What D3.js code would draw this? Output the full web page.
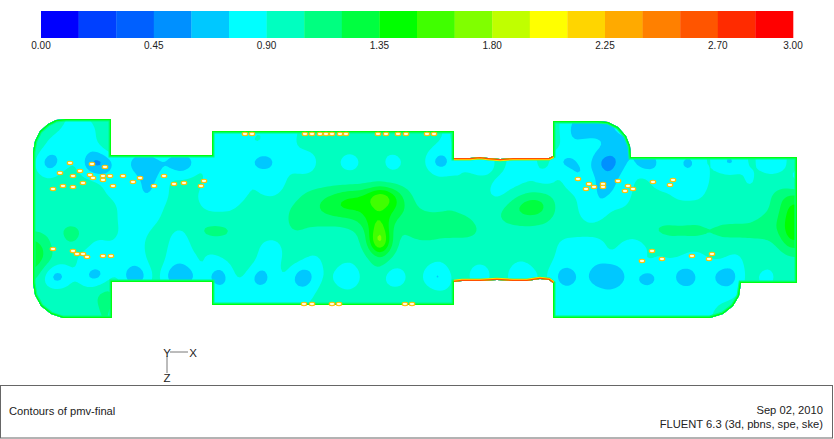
<!DOCTYPE html>
<html><head><meta charset="utf-8">
<script src="https://cdn.jsdelivr.net/npm/d3@7/dist/d3.min.js"></script>
<style>html,body{margin:0;padding:0;background:#fff;overflow:hidden}text{font-family:"Liberation Sans",Arial,sans-serif;fill:#222}</style>
</head><body><svg id="c" width="834" height="439"></svg>
<script>
const bandColors=["#0000ff","#0040ff","#0060ff","#0090ff","#00c8ff","#00ffff","#00ffc0","#00ff80","#00ff40","#00ff00","#40ff00","#80ff00","#c0ff00","#ffff00","#ffd500","#ffaa00","#ff8000","#ff5500","#ff2b00","#ff0000"];
const tickValues=[0,0.45,0.9,1.35,1.8,2.25,2.7,3];
const pmvMin=0,pmvMax=3,bandStep=0.15;
// pmv x 100, sampled across the plan
const pmvRows=[
[98,98,98,92,90,90,92,98,100,100, 98,98,98,98,98,98,98,98,92,85, 85,85,88,90,88,85,85,95,98,98, 98,98,98,98,98,98,98,98,98,98, 98,92,90,98,98,98,98,98,98,98, 98,98,98,92,80,72,72,72,72,80, 95,98,98,98,98,98,98,98,98,98, 98,98,98,98,98,98,98,98],
[98,98,98,92,86,85,85,92,100,100, 98,98,98,98,98,98,98,98,90,85, 85,85,88,90,88,85,85,88,98,98, 98,98,98,98,98,98,98,98,98,98, 98,90,86,98,98,98,98,98,98,98, 98,98,98,92,70,68,68,68,70,84, 95,98,98,98,98,98,98,98,98,98, 98,98,98,98,98,98,98,98],
[100,95,88,84,84,84,84,95,105,105, 98,98,98,98,98,98,98,98,92,84, 84,84,90,92,88,84,85,95,98,98, 98,98,98,98,98,98,98,98,98,98, 98,90,88,98,98,98,98,98,98,98, 98,98,98,95,70,74,76,76,72,66, 70,90,90,90,90,90,90,90,90,90, 90,90,90,90,90,90,90,90],
[100,96,85,80,88,92,80,88,108,100, 96,92,92,96,92,90,94,98,92,85, 84,84,92,90,86,84,85,92,94,96, 98,98,94,98,98,96,94,98,98,98, 92,84,87,94,92,90,94,94,92,92, 94,94,94,92,86,84,83,80,72,68, 72,88,84,88,90,88,88,90,90,88, 86,90,90,90,88,90,90,90],
[98,80,42,78,88,92,40,36,58,90, 70,38,52,72,62,36,56,90,86,62, 85,85,76,52,62,83,86,72,72,97, 98,86,74,88,98,96,76,82,98,98, 78,46,72,94,78,52,82,98,90,52, 78,95,96,60,62,78,82,48,36,62, 84,56,42,84,92,72,54,88,96,78, 50,82,96,90,54,82,96,96],
[98,90,84,94,96,90,84,76,80,92, 86,76,64,78,92,84,90,96,86,80, 84,84,88,86,84,83,92,92,92,98, 98,96,94,96,98,98,94,96,98,98, 96,88,94,88,96,92,96,92,84,92, 96,88,85,98,82,66,84,70,62,78, 85,94,90,80,78,85,82,85,90,94, 94,94,84,95,94,94,90,84],
[98,98,98,98,98,98,98,95,84,92, 86,76,68,84,92,97,95,92,84,83, 83,83,92,88,84,83,96,98,98,98, 98,98,98,98,98,98,98,98,98,98, 98,98,96,86,98,96,90,84,84,84, 84,84,84,92,84,80,84,68,66,82, 86,96,90,82,88,84,84,84,90,98, 98,96,82,98,98,98,92,84],
[98,98,98,98,98,98,98,92,88,84, 84,74,74,84,90,96,92,88,84,84, 88,84,92,90,88,92,98,104,112,118, 124,134,142,142,160,195,165,130,106,98, 98,98,98,98,98,96,88,84,95,108, 118,118,110,96,96,88,84,70,76,84, 88,98,98,96,90,84,84,85,96,98, 98,98,98,98,104,116,130,126],
[98,98,98,98,98,98,98,98,98,88, 84,84,84,86,96,98,98,90,84,84, 84,92,98,98,98,98,106,112,116,122, 134,142,144,140,140,150,142,130,112,102, 98,98,104,98,98,100,98,104,116,130, 138,134,116,98,94,88,84,72,90,88, 92,96,98,98,98,98,98,98,98,98, 98,98,98,98,102,116,146,138],
[98,98,98,98,98,98,98,98,98,85, 83,83,83,90,98,98,98,98,98,98, 98,98,98,98,98,98,108,112,114,114, 112,112,116,124,146,152,132,112,114,114, 114,114,114,112,106,98,100,106,110,112, 112,110,104,98,98,90,84,90,98,98, 98,98,98,98,98,98,98,100,98,98, 98,98,98,106,112,122,150,138],
[100,100,100,106,114,108,98,98,98,90, 84,84,90,98,92,85,94,110,114,114, 110,100,98,98,98,98,106,106,98,98, 98,98,100,104,130,185,118,102,110,122, 122,114,114,114,114,106,98,98,98,98, 98,98,98,98,98,98,98,98,98,98, 98,98,106,114,114,112,114,112,108,114, 116,116,116,116,116,122,154,144],
[128,122,102,94,112,104,90,84,90,86, 83,86,96,98,88,83,88,96,98,98, 98,98,98,90,85,88,98,98,98,98, 98,98,100,100,130,220,124,100,98,98, 98,98,98,98,98,98,98,98,98,98, 98,98,98,86,83,83,83,84,92,90, 84,86,92,92,98,98,98,100,98,98, 98,98,98,98,100,110,140,132],
[150,134,108,100,92,84,84,84,86,86, 83,84,96,98,85,83,92,88,86,92, 98,98,98,87,83,85,98,98,90,90, 98,98,98,98,106,128,106,98,98,98, 98,98,98,98,98,98,98,98,98,98, 98,98,98,84,83,83,83,86,96,86, 83,85,92,90,96,94,85,85,96,98, 90,88,98,98,98,98,104,104],
[130,118,102,92,96,92,84,82,85,88, 80,80,94,98,82,72,82,98,90,82, 90,98,98,82,82,92,96,88,82,86, 98,92,86,98,100,110,98,96,98,98, 92,84,98,98,92,88,92,98,94,84, 92,98,92,80,82,83,80,72,72,80, 83,94,94,84,84,80,84,85,82,86, 80,85,98,96,92,98,98,98],
[110,104,58,44,88,84,56,56,88,92, 46,46,90,98,52,44,52,88,68,46, 84,98,78,50,76,94,88,44,62,90, 94,76,56,92,98,100,70,70,98,96, 68,54,90,98,88,72,90,98,88,54, 76,92,90,58,54,83,70,56,42,62, 84,64,54,82,84,60,52,84,82,58, 48,85,97,84,78,98,98,98],
[98,98,98,98,98,98,98,108,112,96, 94,94,96,96,92,88,94,96,90,82, 83,83,83,82,83,80,82,80,82,95, 96,94,92,98,98,98,96,96,98,98, 96,92,92,96,96,94,96,96,96,92, 96,96,96,82,82,83,82,80,78,82, 83,82,82,83,83,82,82,83,83,82, 80,90,96,94,94,96,96,96],
[98,98,98,98,98,98,98,110,110,96, 96,96,96,96,96,96,96,96,92,83, 83,83,83,83,83,82,92,88,88,98, 98,98,98,98,98,98,98,98,98,98, 98,94,96,96,96,96,96,96,96,96, 96,96,96,84,83,83,83,83,83,83, 83,83,83,83,83,83,83,84,86,90, 90,96,96,96,96,96,96,96],
[98,98,98,98,98,98,98,106,106,96, 96,96,96,96,96,96,96,96,92,85, 85,85,85,85,85,85,90,92,92,98, 98,98,98,98,98,98,98,98,98,98, 98,98,96,96,96,96,96,96,96,96, 96,96,96,84,84,84,84,84,84,84, 84,84,84,84,84,84,84,86,90,92, 96,96,96,96,96,96,96,96],
[98,98,98,98,98,98,98,106,106,96, 96,96,96,96,96,96,96,96,92,85, 85,85,85,85,85,85,90,92,92,98, 98,98,98,98,98,98,98,98,98,98, 98,98,96,96,96,96,96,96,96,96, 96,96,96,84,84,84,84,84,84,84, 84,84,84,84,84,84,84,86,90,92, 96,96,96,96,96,96,96,96]
];
const gridCols=78,gridRows=19,gridDx=10,gridDy=11.5,fineFactor=4,blurRadius=1.5;
// plan outline, room units
const planOutline=[[3,36],[5,25],[10,15],[18,8],[26,4],[36,3],[81,3],[81,39],[182,39],[182,15],[424,15],[424,42],[432,42],[440,42],[450,41],[458,42],[470,43],[483,42],[497,42],[510,42],[519,42],[523,40],[523,5],[568,5],[578,6],[588,11],[596,20],[600,30],[601,41],[767,41],[767,167],[711,167],[709,180],[703,190],[693,198],[680,202],[523,202],[523,167],[519,164],[510,163],[497,165],[483,165],[467,164],[450,165],[432,165],[424,166],[424,189],[182,189],[182,166],[82,166],[82,202],[33,202],[21,198],[11,190],[5,179],[3,167]];
const wallTop=[[424,42],[432,42],[440,42],[450,41],[458,42],[470,43],[483,42],[497,42],[510,42],[519,42],[523,40]];
const wallBottom=[[523,167],[519,164],[510,163],[497,165],[483,165],[467,164],[450,165],[432,165],[424,166]];
// occupants, room units
const occupants=[[215,18],[222,18],[40,47],[62,48],[75,51],[30,57],[50,55],[43,60],[60,59],[63,62],[73,60],[80,60],[73,64],[93,60],[103,66],[110,62],[134,60],[53,67],[33,70],[43,71],[23,73],[83,70],[124,70],[144,68],[154,67],[174,65],[171,70],[23,133],[43,135],[47,138],[53,138],[57,141],[73,140],[81,140],[275,18],[282,18],[290,18],[296,18],[302,18],[310,18],[316,18],[348,18],[356,18],[368,18],[376,18],[397,18],[404,18],[274,188],[282,188],[302,188],[309,188],[375,188],[382,188],[548,63],[559,68],[556,73],[564,71],[573,68],[573,71],[588,65],[598,70],[603,73],[595,75],[623,66],[643,64],[640,69],[622,135],[632,143],[612,145],[662,140],[682,138],[679,143]];
const titleLeft="Contours of pmv-final",dateText="Sep 02, 2010",versionText="FLUENT 6.3 (3d, pbns, spe, ske)";

const svg=d3.select("#c");
const bar=d3.scaleLinear().domain([pmvMin,pmvMax]).range([41,793]);
const bands=d3.range(bandColors.length);
svg.append("g").selectAll("rect").data(bands).join("rect")
 .attr("x",i=>bar(i*bandStep)).attr("y",11).attr("height",27)
 .attr("width",i=>bar((i+1)*bandStep)-bar(i*bandStep)+0.3).attr("fill",i=>bandColors[i]);
svg.append("g").selectAll("text").data(tickValues).join("text")
 .attr("x",d=>bar(d)).attr("y",49).attr("text-anchor","middle").attr("font-size",10).text(d=>d.toFixed(2));

const xS=d3.scaleLinear().domain([0,770]).range([30,800]);
const yS=d3.scaleLinear().domain([0,207]).range([116,323]);
const line=d3.line().x(d=>xS(d[0])).y(d=>yS(d[1]));
const planPath=line(planOutline)+"Z";
svg.append("clipPath").attr("id","plan").append("path").attr("d",planPath);
const plan=svg.append("g").attr("clip-path","url(#plan)");

// rasterise the samples onto a finer mesh so the bands round off as a solver's would
const fw=(gridCols-1)*fineFactor+1,fh=(gridRows-1)*fineFactor+1;
const fine=new Float64Array(fw*fh);
for(let j=0;j<fh;j++){const gy=j/fineFactor,j0=Math.min(Math.floor(gy),gridRows-2),ty=gy-j0;
 for(let i=0;i<fw;i++){const gx=i/fineFactor,i0=Math.min(Math.floor(gx),gridCols-2),tx=gx-i0;
  const a=d3.interpolateNumber(pmvRows[j0][i0],pmvRows[j0][i0+1])(tx),b=d3.interpolateNumber(pmvRows[j0+1][i0],pmvRows[j0+1][i0+1])(tx);
  fine[j*fw+i]=d3.interpolateNumber(a,b)(ty)/100;}}
d3.blur2({data:fine,width:fw,height:fh},blurRadius);
const thresholds=bands.slice(1).map(i=>i*bandStep);
const conts=d3.contours().size([fw,fh]).thresholds(thresholds)(Array.from(fine));
const geo=d3.geoPath(d3.geoTransform({point(x,y){this.stream.point(xS((x-0.5)/fineFactor*gridDx),yS((y-0.5)/fineFactor*gridDy));}}));
plan.append("path").attr("d",planPath).attr("fill",bandColors[5]);
plan.selectAll("path.b").data(conts).join("path").attr("class","b")
 .attr("d",geo).attr("fill",(d,i)=>bandColors[i+1]);
plan.append("path").attr("d",planPath).attr("fill","none").attr("stroke","#00ff80").attr("stroke-width",5);
plan.append("path").attr("d",planPath).attr("fill","none").attr("stroke","#00ff10").attr("stroke-width",2.6);
[wallTop,wallBottom].forEach(w=>{
 plan.append("path").attr("d",line(w)).attr("fill","none").attr("stroke","#ffe000").attr("stroke-width",4.4);
 plan.append("path").attr("d",line(w)).attr("fill","none").attr("stroke","#ff5000").attr("stroke-width",2.4);
});
svg.append("g").selectAll("ellipse").data(occupants).join("ellipse")
 .attr("cx",d=>xS(d[0])).attr("cy",d=>yS(d[1])).attr("rx",2.8).attr("ry",1.7)
 .attr("fill","#fffbe0").attr("stroke","#ffc000").attr("stroke-width",1.1);

const tr=svg.append("g").attr("stroke","#555").attr("stroke-width",0.8);
tr.append("line").attr("x1",170).attr("y1",352).attr("x2",188).attr("y2",352);
tr.append("line").attr("x1",167).attr("y1",356).attr("x2",167).attr("y2",373);
[["Y",167,357],["X",193,357],["Z",167,382]].forEach(t=>svg.append("text").attr("x",t[1]).attr("y",t[2]).attr("text-anchor","middle").attr("font-size",11.5).text(t[0]));

svg.append("rect").attr("x",0.5).attr("y",385.5).attr("width",832).attr("height",52.5).attr("fill","none").attr("stroke","#666").attr("stroke-width",1);
svg.append("text").attr("x",9).attr("y",415).attr("font-size",11.2).text(titleLeft);
svg.append("text").attr("x",823).attr("y",414).attr("text-anchor","end").attr("font-size",11.2).text(dateText);
svg.append("text").attr("x",823).attr("y",428).attr("text-anchor","end").attr("font-size",11.2).text(versionText);
</script></body></html>
